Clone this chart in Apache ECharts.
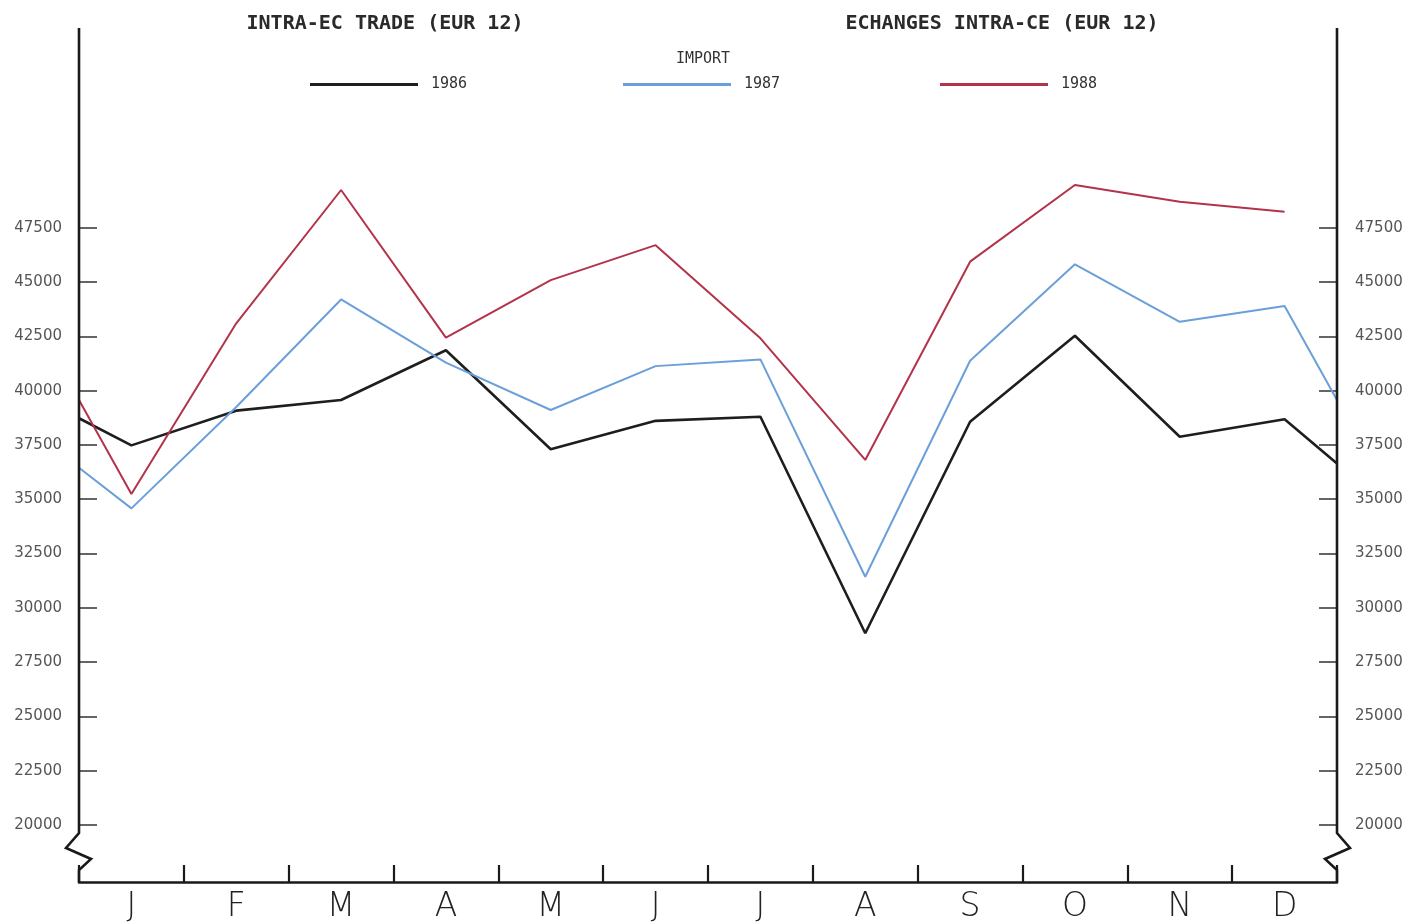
<!DOCTYPE html>
<html>
<head>
<meta charset="utf-8">
<script src="https://cdn.jsdelivr.net/npm/echarts@6/dist/echarts.min.js"></script>
<style>
html,body{margin:0;padding:0;background:#fff;}
#c{width:1411px;height:922px;}
</style>
</head>
<body>
<div id="c"></div>
<script>
// ---- data ----
const months = ['J','F','M','A','M','J','J','A','S','O','N','D'];
const yTicks = [20000,22500,25000,27500,30000,32500,35000,37500,40000,42500,45000,47500];
const seriesNames = ['1986','1987','1988'];
// monthly values (Jan..Dec)
const imp1986 = [37480,39080,39570,41860,37300,38610,38800,28830,38570,42530,37880,38680];
const imp1987 = [34580,39250,44200,41290,39110,41130,41440,31430,41380,45820,43170,43900];
const imp1988 = [35240,43100,49240,42440,45090,46700,42410,36810,45940,49470,48700,48240];
// values where each line meets the left (start) and right (end) axis
const edgeStart = [38730,36450,39570];
const edgeEnd = [36650,39570,null];

const colors = ['#1e1e1e','#6b9fd9','#b3334a'];
const widths = [2.6,2,2];

function buildSeriesData(vals, s, e){
  const d = [[0, s]];
  vals.forEach((v,i)=>d.push([i+0.5, v]));
  if (e !== null) d.push([12, e]);
  return d;
}
const allVals = [imp1986, imp1987, imp1988];

const chart = echarts.init(document.getElementById('c'));
const gridL = 79, gridR = 74, gridT = 28, gridB = 40;
const mono = 'DejaVu Sans Mono';

const legendLefts = [305, 618, 935];

const yLabel = {customValues:yTicks, formatter:v=>String(v), fontFamily:'DejaVu Sans', fontSize:15,
  color:'#555', padding:[0,0,8,0]};

const option = {
  backgroundColor: '#ffffff',
  animation: false,
  title: [
    {text:'INTRA-EC TRADE (EUR 12)', left:380, top:9, textAlign:'center',
     textStyle:{fontFamily:mono, fontSize:20, fontWeight:'bold', color:'#2a2a2a'}},
    {text:'ECHANGES INTRA-CE (EUR 12)', left:997, top:9, textAlign:'center',
     textStyle:{fontFamily:mono, fontSize:20, fontWeight:'bold', color:'#2a2a2a'}},
    {text:'IMPORT', left:698, top:47, textAlign:'center',
     textStyle:{fontFamily:mono, fontSize:15, fontWeight:'normal', color:'#333'}}
  ],
  legend: seriesNames.map((n,i)=>({
    data:[n], left: legendLefts[i], top: 72,
    itemWidth:108, itemHeight:3, icon:'rect',
    textStyle:{fontFamily:mono, fontSize:15, color:'#333', padding:[0,0,0,8]},
    selectedMode:false
  })),
  grid: {left:gridL, right:gridR, top:gridT, bottom:gridB, containLabel:false, outerBoundsMode:'none'},
  xAxis: [
    {type:'category', data:months, boundaryGap:true, position:'bottom',
     axisLine:{show:true, lineStyle:{color:'#1a1a1a', width:2.6}},
     axisTick:{show:true, inside:true, length:17, lineStyle:{color:'#1a1a1a', width:2.2}},
     axisLabel:{fontFamily:'DejaVu Sans', fontWeight:200, fontSize:33, color:'#222', margin:9},
     splitLine:{show:false}},
    {type:'value', min:0, max:12, show:false}
  ],
  yAxis: [
    {type:'value', position:'left', min:17375, max:56700,
     axisLine:{show:false},
     axisTick:{show:true, inside:true, length:18, customValues:yTicks, lineStyle:{color:'#333', width:1.5}},
     axisLabel:Object.assign({margin:17}, yLabel),
     splitLine:{show:false}},
    {type:'value', position:'right', min:17375, max:56700,
     axisLine:{show:false},
     axisTick:{show:true, inside:true, length:18, customValues:yTicks, lineStyle:{color:'#333', width:1.5}},
     axisLabel:Object.assign({margin:18}, yLabel),
     splitLine:{show:false}}
  ],
  series: seriesNames.map((n,i)=>({
    name:n, type:'line', xAxisIndex:1, yAxisIndex:0,
    data: buildSeriesData(allVals[i], edgeStart[i], edgeEnd[i]),
    showSymbol:false, symbol:'none',
    lineStyle:{color:colors[i], width:widths[i]},
    itemStyle:{color:colors[i]}
  }))
};
chart.setOption(option);

// vertical axis lines with the zig-zag axis break near the bottom
const yTop = chart.convertToPixel({yAxisIndex:0}, 56700);
const y20k = chart.convertToPixel({yAxisIndex:0}, 20000);
const yBot = chart.convertToPixel({yAxisIndex:0}, 17375);
const xL = chart.convertToPixel({xAxisIndex:1}, 0);
const xR = chart.convertToPixel({xAxisIndex:1}, 12);
const zz = (x, dir) => {
  const a = y20k + 8, b = y20k + 23, c = y20k + 34, d = y20k + 45;
  return [[x, yTop],[x, a],[x - dir*13, b],[x + dir*12, c],[x, d],[x, yBot]];
};
chart.setOption({
  graphic: [
    {type:'polyline', shape:{points: zz(xL, 1)}, style:{stroke:'#1a1a1a', lineWidth:2.6, fill:null}, z:10},
    {type:'polyline', shape:{points: zz(xR, -1)}, style:{stroke:'#1a1a1a', lineWidth:2.6, fill:null}, z:10}
  ]
});
</script>
</body>
</html>
